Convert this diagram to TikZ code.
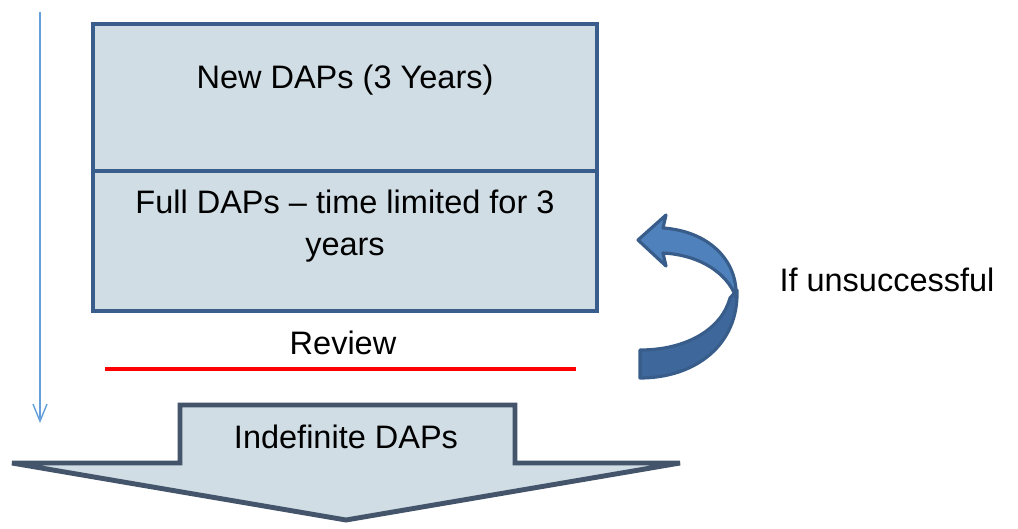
\documentclass[tikz,border=0pt]{standalone}
\usepackage{fontspec}
\setmainfont{Liberation Sans}
\usetikzlibrary{arrows.meta}
\usetikzlibrary{positioning}
\definecolor{dapfill}{RGB}{208, 221, 229}
\definecolor{dapframe}{RGB}{58, 94, 140}
\definecolor{slateframe}{RGB}{68, 84, 106}
\definecolor{timeblue}{RGB}{100, 160, 220}
\definecolor{bendlight}{RGB}{79, 129, 189}
\definecolor{benddark}{RGB}{62, 104, 156}
\definecolor{bendframe}{RGB}{56, 93, 138}

\tikzset{
  daprect/.style={draw=dapframe, fill=dapfill, line width=2.3pt, minimum width=10.08cm, inner sep=0pt},
  daptext/.style={font=\fontsize{18.5}{24}\selectfont, align=center, inner sep=0pt},
}

\begin{document}
\begin{tikzpicture}[x=0.02cm, y=-0.02cm]
            \useasboundingbox (0,0) rectangle (1018,528);
            % time line on the left
            \coordinate (tltop) at (40,12);
            \coordinate (tlbot) at (40,423);
            \draw[timeblue, line width=0.8pt, -{Straight Barb[length=3.4mm,width=2.8mm]}] (tltop) -- (tlbot);
            % the two DAP boxes
            \node[daprect, minimum height=2.94cm] (newbox)  at (345, 97.5) {};
            \node[daprect, minimum height=2.80cm] (fullbox) at (345,241.0) {};
            \node[daptext] (newlbl)  at (345, 80) {New DAPs (3 Years)};
            \node[daptext] (fulllbl) at (345,226) {Full DAPs -- time limited for 3\\years};
            % review line
            \node[daptext] (review) at (343,343) {Review};
            \coordinate (revleft)  at (105,369);
            \coordinate (revright) at (576,369);
            \draw[red, line width=2.3pt] (revleft) -- (revright);
            % bent arrow
            \filldraw[bendframe, fill=benddark, line width=1.8pt, line join=round]
                 (737,290) .. controls (739,345) and (695,378) .. (640,378) -- (640,350)
                 .. controls (688,350) and (722,328) .. (730,298) -- cycle;
            \filldraw[bendframe, fill=bendlight, line width=1.8pt, line join=round]
                 (666,215) -- (638,240) -- (666,266) -- (663,253)
                 .. controls (700,255) and (727,273) .. (736,297)
                 .. controls (738,260) and (708,231) .. (663,228) -- cycle;
            \node[daptext] (fail) at (887,280) {If unsuccessful};
            % indefinite arrow at the bottom
            \filldraw[slateframe, fill=dapfill, line width=2.8pt]
                 (180,405) -- (515,405) -- (515,463) -- (680,463) -- (346,520)
                 -- (12,463) -- (180,463) -- cycle;
            \node[daptext] (indef) at (346,437) {Indefinite DAPs};
        \end{tikzpicture}
\end{document}
